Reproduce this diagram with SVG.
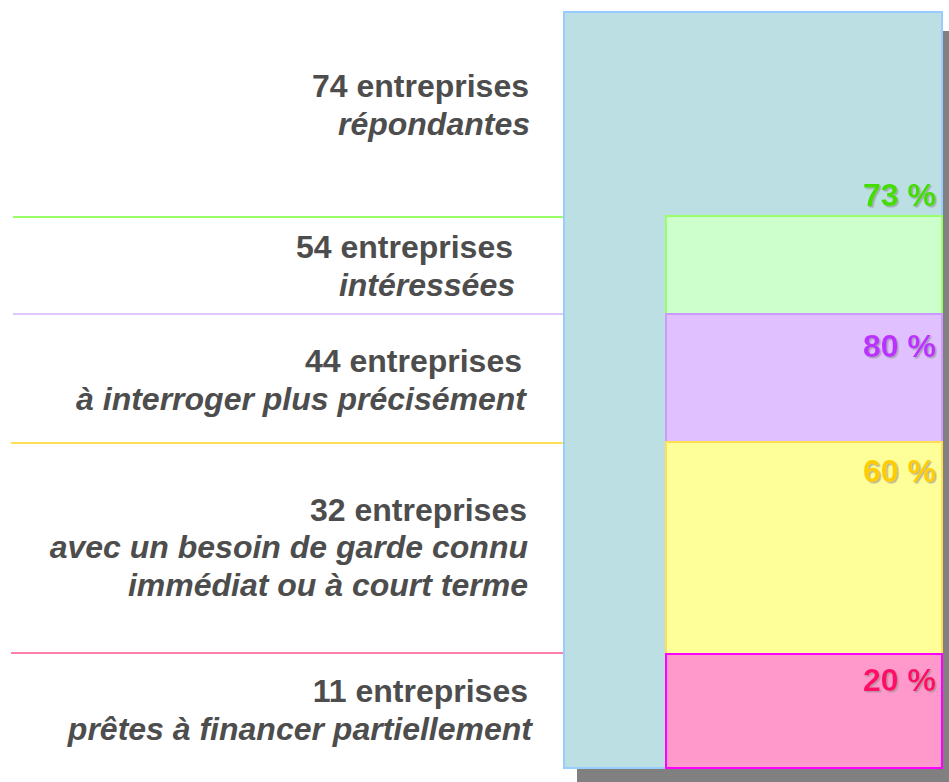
<svg xmlns="http://www.w3.org/2000/svg" width="949" height="782" viewBox="0 0 949 782">
  <style>
    .lbl { font-family: "Liberation Sans", Arial, sans-serif; font-size: 32px; font-weight: bold; fill: #4d4d4d; text-anchor: end; }
    .it { font-style: italic; }
    .pct { font-family: "Liberation Sans", Arial, sans-serif; font-size: 32px; font-weight: bold; text-anchor: end; filter: url(#ts); }
    .sep { stroke-width: 2; fill: none; }
  </style>
  <defs>
    <filter id="ts" x="-10%" y="-20%" width="130%" height="150%">
      <feDropShadow dx="1.5" dy="1.5" stdDeviation="0.6" flood-color="#8a8a8a" flood-opacity="0.6"/>
    </filter>
  </defs>
  <rect width="949" height="782" fill="#ffffff"/>

  <g id="connectors">
    <line class="sep" x1="13" y1="217" x2="564" y2="217" stroke="#99ff66"/>
    <line class="sep" x1="13" y1="314" x2="564" y2="314" stroke="#e0c8ff"/>
    <line class="sep" x1="11" y1="443" x2="564" y2="443" stroke="#ffdd55"/>
    <line class="sep" x1="11" y1="653" x2="564" y2="653" stroke="#ff7fa8"/>
  </g>

  <g id="node-total">
    <rect x="577" y="31" width="378" height="756" fill="#808080"/>
    <rect x="564" y="12" width="378" height="756" fill="#bbdfe3" stroke="#99ccff" stroke-width="2"/>
    <text class="lbl" x="529" y="97">74 entreprises</text>
    <text class="lbl it" x="530" y="135">répondantes</text>
    <text class="pct" x="936" y="206" fill="#44dd00">73 %</text>
  </g>

  <g id="node-interessees">
    <rect x="666" y="216" width="276" height="98" fill="#ccffcc" stroke="#99ff66" stroke-width="2"/>
    <text class="lbl" x="513" y="258">54 entreprises</text>
    <text class="lbl it" x="515" y="296">intéressées</text>
  </g>

  <g id="node-interroger">
    <rect x="666" y="314" width="276" height="128" fill="#e0c0ff" stroke="#cc99ff" stroke-width="2"/>
    <text class="lbl" x="522" y="372">44 entreprises</text>
    <text class="lbl it" x="526" y="410">à interroger plus précisément</text>
    <text class="pct" x="936" y="357" fill="#bb33ff">80 %</text>
  </g>

  <g id="node-besoin">
    <rect x="666" y="442" width="276" height="212" fill="#ffff99" stroke="#ffdd55" stroke-width="2"/>
    <text class="lbl" x="527" y="521">32 entreprises</text>
    <text class="lbl it" x="528" y="558">avec un besoin de garde connu</text>
    <text class="lbl it" x="528" y="596">immédiat ou à court terme</text>
    <text class="pct" x="936" y="482" fill="#ffcc00">60 %</text>
  </g>

  <g id="node-financer">
    <rect x="666" y="654" width="276" height="114" fill="#ff99cc" stroke="#ff00ff" stroke-width="2"/>
    <text class="lbl" x="528" y="702">11 entreprises</text>
    <text class="lbl it" x="532" y="740">prêtes à financer partiellement</text>
    <text class="pct" x="936" y="691" fill="#ff1166">20 %</text>
  </g>
</svg>
